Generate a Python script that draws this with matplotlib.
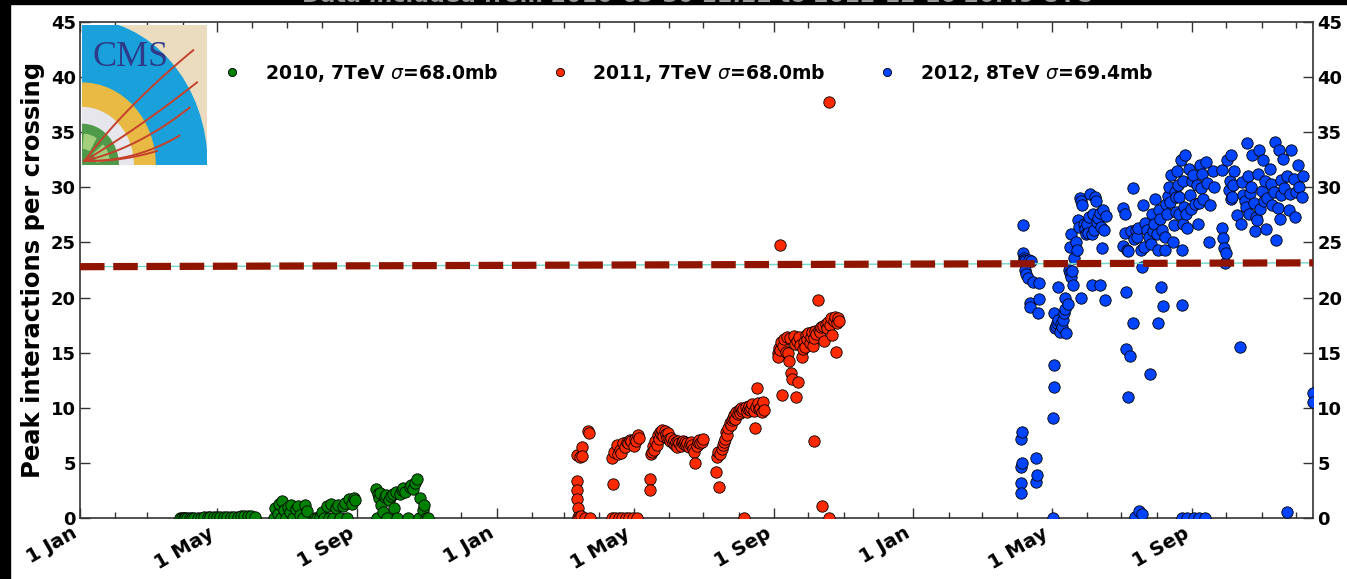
import matplotlib
matplotlib.use("Agg")
import matplotlib.pyplot as plt
import matplotlib.dates as mdates
import matplotlib.ticker as ticker
from matplotlib.patches import Rectangle, Ellipse, Wedge
import numpy as np
import pandas as pd

# Peak pileup per day, days counted from 1 Jan of each year.
days_2010 = [88, 89, 91, 92, 94, 96, 98, 100, 103, 106, 109, 112, 114, 117, 120, 123, 126, 129, 132, 135, 138, 141, 144, 147, 150, 153,
             170, 171, 173, 174, 176, 177, 179, 180, 182, 184, 185, 187, 189, 191, 193, 195, 197, 199,
             206, 208, 210, 212, 214, 216, 218, 220, 222, 224, 226, 228, 230, 232, 234, 236, 238, 240, 241,
             259, 260, 261, 262, 263, 264, 265, 267, 268, 269, 271, 272, 274, 275, 277, 278, 280, 282, 283, 285, 287, 289, 290, 292, 293, 295, 297, 298, 300, 301, 303, 305]
pileup_2010 = [0.0, 0.01, 0.01, 0.02, 0.02, 0.02, 0.03, 0.03, 0.04, 0.04, 0.05, 0.05, 0.06, 0.06, 0.07, 0.08, 0.08, 0.09, 0.1, 0.12, 0.12, 0.15, 0.18, 0.2, 0.15, 0.1,
               0.0, 0.9, 0.4, 1.3, 0.0, 1.5, 0.7, 0.0, 1.0, 0.5, 1.2, 0.0, 0.8, 1.1, 0.3, 0.0, 1.2, 0.6,
               0.0, 0.0, 0.1, 0.5, 0.0, 1.1, 0.0, 1.3, 0.0, 0.9, 1.2, 0.0, 1.1, 1.4, 0.0, 1.7, 1.3, 1.8, 1.6,
               2.6, 0.0, 2.2, 1.8, 2.3, 1.2, 0.5, 1.9, 2.1, 0.0, 1.6, 2.0, 2.2, 0.9, 2.4, 0.0, 2.2, 2.5, 2.7, 2.4, 0.0, 2.8, 3.0, 2.6, 3.2, 3.5, 0.0, 1.8, 0.7, 1.2, 0.0, 0.0]

days_2011 = [70, 70, 70, 70, 71, 71, 72, 73, 74, 75, 75, 77, 80, 81, 82,
             101, 101, 102, 103, 104, 105, 106, 107, 108, 109, 110, 111, 112, 113, 114, 115, 116, 117, 118, 119, 120, 121, 122, 123, 124, 125,
             134, 134, 135, 136, 137, 138, 139, 140, 141, 142, 143, 144, 145, 146, 147, 148, 149, 150, 151, 152, 153, 154, 155, 156,
             157, 158, 159, 160, 161, 162, 163, 164, 165, 166, 167, 168, 169, 170, 171, 172, 173, 174, 175, 176, 177, 178, 180, 181,
             192, 193, 194, 195, 196, 197, 198, 199, 200, 201, 202, 203, 204, 205, 206, 207, 208, 209, 210, 211, 212, 213,
             214, 215, 216, 217, 218, 219, 220, 221, 222, 223, 224, 225, 226, 227, 228, 229, 230, 231, 232, 233, 234,
             246, 246, 247, 248, 248, 249, 250, 251, 252, 253, 254, 255, 256, 257, 258, 259, 260, 261, 262, 263,
             264, 265, 266, 267, 268, 269, 270, 271, 272, 273, 274, 275, 276, 277, 278, 278, 279, 280, 281, 282,
             283, 284, 285, 286, 287, 288, 289, 290, 291, 291, 292, 293, 294, 295, 296, 297, 298, 299, 300]
pileup_2011 = [5.7, 3.4, 2.5, 1.7, 0.9, 0.1, 0.0, 5.5, 0.2, 6.4, 5.6, 0.0, 7.9, 7.7, 0.0,
               5.4, 0.0, 3.1, 6.0, 0.0, 6.6, 5.8, 0.0, 6.2, 5.9, 0.0, 6.8, 6.4, 0.0, 6.9, 6.8, 0.0, 7.1, 7.0, 0.0, 6.5, 7.2, 7.0, 0.0, 7.5, 7.3,
               3.5, 2.5, 5.8, 6.0, 6.5, 6.2, 7.0, 6.6, 7.5, 7.2, 7.8, 7.6, 8.0, 7.4, 7.9, 7.6, 7.3, 7.7, 7.2, 7.0, 7.3, 6.8, 7.1, 6.6,
               6.9, 6.4, 7.0, 6.8, 6.5, 6.9, 7.0, 6.7, 6.9, 6.6, 6.8, 6.4, 6.7, 6.9, 6.6, 6.3, 6.0, 5.0, 6.5, 6.9, 7.1, 6.8, 6.9, 7.2,
               4.2, 5.5, 6.0, 2.8, 5.8, 6.3, 6.6, 6.9, 7.2, 7.8, 7.5, 8.2, 8.6, 8.4, 8.9, 9.1, 9.3, 9.0, 9.6, 9.4, 9.8, 9.5,
               10.0, 9.7, 9.9, 0.0, 10.1, 9.6, 9.9, 10.2, 9.8, 10.0, 10.3, 9.7, 8.2, 10.1, 11.8, 10.4, 9.9, 10.0, 9.6, 10.5, 9.8,
               15.0, 14.6, 15.4, 24.8, 15.2, 16.0, 11.2, 15.6, 16.2, 15.1, 16.4, 15.0, 14.2, 16.3, 13.2, 12.6, 16.5, 15.8, 11.0, 16.1,
               12.3, 16.4, 15.7, 14.6, 15.3, 16.0, 15.5, 16.6, 16.2, 16.8, 15.9, 16.4, 16.9, 15.6, 7.0, 16.3, 17.0, 16.7, 19.8, 17.1,
               16.9, 17.3, 1.1, 17.4, 16.1, 17.6, 17.2, 17.8, 37.7, 0.0, 17.5, 18.1, 16.6, 17.9, 18.2, 15.1, 17.7, 18.1, 17.9]

days_2012 = [94, 94, 94, 94, 95, 95, 96, 96, 97, 97, 98, 98, 99, 100, 101, 102, 102, 103, 105, 107, 107, 108, 109, 110, 110,
             122, 122, 123, 123, 123, 124, 125, 126, 127, 127, 128, 129, 130, 131, 132, 133, 133, 134, 135, 136, 137, 137, 138, 138,
             139, 140, 141, 142, 143, 144, 145, 146, 147, 147, 148, 149, 150, 151, 152, 153, 154, 155, 156, 156, 157, 158, 159, 160,
             161, 162, 163, 163, 164, 165, 166, 167, 168, 169,
             184, 184, 185, 185, 186, 186, 187, 188, 188, 190, 191, 192, 192, 193, 194, 195, 196, 197, 198, 199,
             200, 200, 201, 202, 203, 205, 206, 207, 208, 209, 210, 211, 212, 213, 214, 214, 215, 216, 217, 218,
             219, 220, 220, 221, 222, 223, 224, 225, 226,
             227, 228, 229, 230, 230, 231, 232, 233, 233, 234, 235, 235, 235, 236, 236, 237, 238, 239, 240, 240,
             241, 242, 243, 244, 245, 246, 247, 248, 249, 250, 250, 251, 252, 253, 254, 255, 256, 257, 259, 260, 262, 263,
             270, 270, 271, 272, 273, 274, 275, 276, 277, 278, 278, 279, 280, 281, 283, 286, 287, 288, 289, 290,
             291, 292, 293, 294, 295, 296, 297, 298, 299, 300, 301, 302, 303, 304, 305, 306, 307, 308, 309, 310,
             312, 313, 314, 316, 317, 318, 319, 320, 321, 322, 322, 324, 325, 327, 327, 329, 330, 331, 333, 334,
             335, 337, 338, 340, 341, 350, 350]
pileup_2012 = [7.2, 4.6, 3.2, 2.3, 7.8, 5.0, 26.6, 24.0, 23.6, 23.4, 23.3, 22.5, 22.1, 21.8, 23.4, 19.5, 19.1, 23.3, 21.4, 5.4, 3.3, 3.9, 18.6, 19.9, 21.3,
               0.0, 9.1, 11.9, 13.9, 18.6, 17.2, 17.4, 17.7, 21.0, 18.0, 16.9, 17.6, 17.3, 18.0, 18.6, 20.0, 19.0, 16.8, 19.4, 22.5, 24.6, 22.2, 25.8, 21.9,
               22.4, 21.1, 23.6, 25.0, 24.3, 27.0, 26.4, 29.0, 28.8, 20.0, 28.4, 26.7, 26.2, 25.8, 26.7, 25.9, 27.3, 29.4, 25.8, 21.1, 27.6, 26.1, 29.1, 28.8,
               26.9, 27.2, 21.1, 27.7, 26.4, 24.5, 27.9, 26.1, 19.8, 27.4,
               28.1, 24.7, 27.6, 25.9, 20.5, 15.3, 24.3, 11.0, 24.2, 14.7, 26.0, 29.9, 17.7, 25.3, 0.1, 26.1, 25.5, 26.3, 0.6, 24.3,
               0.4, 22.8, 28.4, 24.6, 26.8, 26.1, 25.5, 13.1, 24.9, 27.6, 26.0, 26.7, 28.9, 25.8, 24.3, 17.7, 27.9, 27.1, 21.0, 26.1,
               19.2, 24.3, 25.5, 28.5, 27.6, 29.2, 30.0, 28.7, 31.1,
               25.0, 26.6, 29.6, 27.8, 29.1, 31.5, 30.2, 29.1, 27.6, 32.5, 24.3, 19.3, 0.0, 30.6, 26.7, 28.2, 32.9, 27.6, 0.0, 26.3,
               31.7, 29.3, 28.0, 30.6, 31.1, 0.0, 28.5, 30.2, 26.7, 0.0, 28.6, 32.0, 29.9, 31.2, 28.9, 0.0, 32.3, 30.4, 25.0, 28.4, 31.5, 30.0,
               26.3, 31.6, 25.4, 24.5, 23.1, 24.0, 32.5, 29.8, 30.6, 32.9, 28.9, 29.1, 30.2, 31.5, 27.5, 15.5, 26.7, 30.5, 29.3, 28.8,
               28.2, 34.0, 31.0, 27.6, 29.5, 30.0, 32.9, 28.6, 26.0, 27.3, 27.0, 31.2, 33.4, 28.0, 29.7, 32.5, 28.8, 30.6, 26.2, 29.0,
               31.7, 30.3, 28.4, 29.6, 34.1, 25.2, 28.1, 33.4, 27.1, 29.3, 30.7, 32.6, 29.9, 0.5, 31.0, 27.9, 29.4, 33.4, 30.8, 27.3,
               29.6, 32.0, 30.0, 29.1, 31.0, 11.3, 10.5]

years = [2010, 2011, 2012]
run_labels = ['2010, 7TeV $\\sigma$=68.0mb', '2011, 7TeV $\\sigma$=68.0mb', '2012, 8TeV $\\sigma$=69.4mb']
run_colors = ['#008000', '#ff2a00', '#0044ff']

# reference pileup level across the three years
ref_dates = ['2010-01-01', '2012-12-16']
ref_level = [22.8, 23.15]

W, H = 1347, 579


def to_dates(year, days):
    return pd.Timestamp(f'{year}-01-01') + pd.to_timedelta(days, unit='D')


def month_day(x, pos=None):
    d = mdates.num2date(x)
    return f"{d.day} {d:%b}"


plt.rcParams['font.family'] = ['DejaVu Sans']
plt.rcParams['font.weight'] = 'bold'
# keep the sigma in the legend thin italic
plt.rcParams['mathtext.fontset'] = 'custom'
plt.rcParams['mathtext.it'] = 'DejaVu Sans:italic:normal'
plt.rcParams['mathtext.rm'] = 'DejaVu Sans:bold'

fig = plt.figure(figsize=(W / 100, H / 100), dpi=100)
fig.patch.set_facecolor('white')
ax = fig.add_axes([80 / W, 61 / H, 1233 / W, 496 / H])

all_days = [days_2010, days_2011, days_2012]
all_pileup = [pileup_2010, pileup_2011, pileup_2012]
for year, days, vals, col, lab in zip(years, all_days, all_pileup, run_colors, run_labels):
    ax.plot(to_dates(year, days), vals, 'o', ms=8.2, mfc=col, mec='black', mew=0.6,
            label=lab, zorder=3)

ref_x = pd.to_datetime(ref_dates)
ax.plot(ref_x, ref_level, color='#6fd8c8', lw=1.0, zorder=4)
ax.plot(ref_x, ref_level, color='#8f1500', lw=5.2, dashes=(3.4, 1.2), zorder=5)

ax.set_xlim(pd.Timestamp('2010-01-01'), pd.Timestamp('2012-12-16'))
ax.set_ylim(0, 45)
ax.xaxis.set_major_locator(mdates.MonthLocator(bymonth=[1, 5, 9]))
ax.xaxis.set_minor_locator(mdates.MonthLocator())
ax.xaxis.set_major_formatter(ticker.FuncFormatter(month_day))
ax.yaxis.set_major_locator(ticker.MultipleLocator(5))

ax.tick_params(which='both', direction='in', top=True, right=True, labelright=True,
               width=1.0, color='#333333')
ax.tick_params(which='major', length=7)
ax.tick_params(which='minor', length=4)
ax.tick_params(axis='y', labelsize=13, pad=3)
ax.tick_params(axis='x', labelsize=14, pad=4)
plt.setp(ax.get_xticklabels(), rotation=30, ha='right')
for sp in ax.spines.values():
    sp.set_linewidth(1.2)
    sp.set_color('#333333')

ax.set_ylabel('Peak interactions per crossing', fontsize=17.5, fontweight='bold', labelpad=4)

ax.legend(loc='center left', bbox_to_anchor=((223 - 80) / 1233, (518 - 73) / 496),
          ncol=3, frameon=False, handlelength=1.0, handletextpad=1.25, columnspacing=2.75,
          markerscale=0.72, borderpad=0, borderaxespad=0, prop={'size': 13.5, 'weight': 'bold'})

# CMS logo in the top left corner
logo = fig.add_axes([82 / W, (H - 165) / H, 125 / W, 140 / H])
logo.set_xlim(0, 1)
logo.set_ylim(0, 1)
logo.axis('off')
logo.add_patch(Rectangle((0, 0), 1, 1, color='#ecdcbf'))
logo.add_patch(Ellipse((0, 0), 2 * 1.0, 2 * 1.04, color='#1aa0da'))
logo.add_patch(Ellipse((0, 0), 2 * 0.585, 2 * 0.585, color='#e8b943'))
logo.add_patch(Ellipse((0, 0), 2 * 0.41, 2 * 0.41, color='#e6e6ec'))
logo.add_patch(Ellipse((0, 0), 2 * 0.29, 2 * 0.29, color='#4f9a4a'))
logo.add_patch(Wedge((0, 0), 0.22, 10, 40, width=0.1, color='#a2cf7c'))
logo.add_patch(Wedge((0, 0), 0.22, 60, 85, width=0.1, color='#a2cf7c'))
t = np.linspace(0, 1, 60)
tracks = [((0.35, 0.42), (0.89, 0.82)), ((0.45, 0.26), (0.92, 0.59)),
          ((0.45, 0.12), (0.86, 0.41)), ((0.42, 0.02), (0.78, 0.21)),
          ((0.30, 0.02), (0.60, 0.10))]
for (cx, cy), (ex, ey) in tracks:
    bx = 2 * (1 - t) * t * cx + t ** 2 * ex + (1 - t) ** 2 * 0.02
    by = 2 * (1 - t) * t * cy + t ** 2 * ey + (1 - t) ** 2 * 0.03
    logo.plot(bx, by, color='#c4422c', lw=1.4)
logo.text(0.08, 0.71, 'CMS', family='Liberation Serif', fontsize=26, fontweight='normal',
          color='#2e3a8a', va='baseline')

# title sits above the canvas, only its lower edge shows
fig.text(0.517, 1 - 2.5 / H, 'Data included from 2010-03-30 11:22 to 2012-12-16 20:49 UTC',
         ha='center', va='baseline', fontsize=16, color='#999999', zorder=10)
fig.add_artist(Rectangle((0, 1 - 4 / H), 1, 4 / H, transform=fig.transFigure,
                         color='black', zorder=5))
fig.add_artist(Rectangle((0, 0), 10 / W, 1, transform=fig.transFigure,
                         color='black', zorder=5))

fig.savefig('out.png', dpi=100)
